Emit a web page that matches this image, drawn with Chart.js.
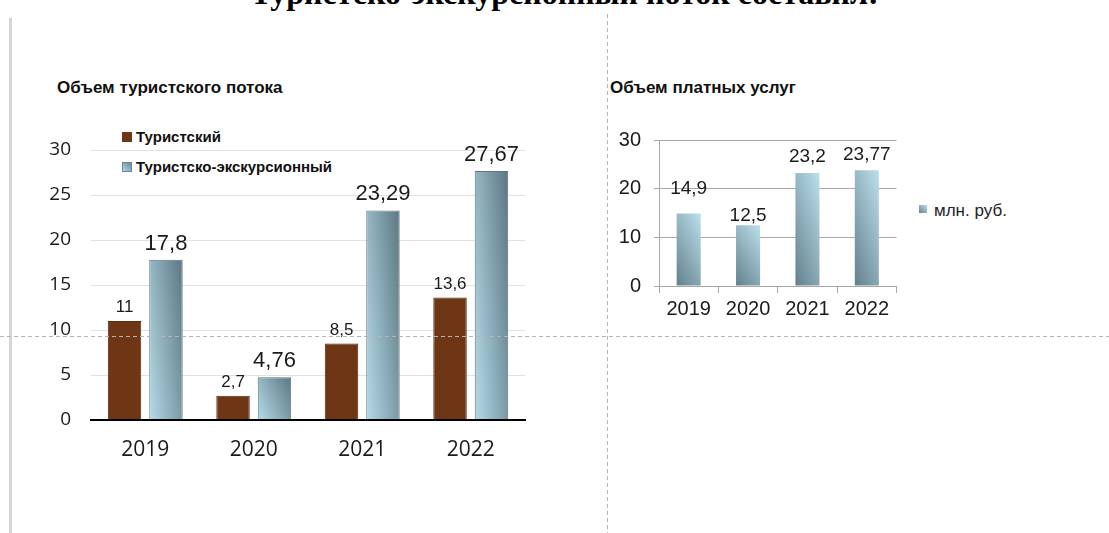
<!DOCTYPE html>
<html lang="ru">
<head>
<meta charset="utf-8">
<script src="https://cdn.jsdelivr.net/npm/chart.js@4/dist/chart.umd.min.js"></script>
<style>
  html,body{margin:0;padding:0;background:#fff;}
  body{width:1109px;height:533px;position:relative;overflow:hidden;font-family:"Liberation Sans",Arial,sans-serif;color:#1a1a1a;}
  .abs{position:absolute;}
  #topTitle{left:0;width:1129px;top:-23px;text-align:center;font:bold 32px/32px "Liberation Serif","Times New Roman",serif;color:#000;white-space:nowrap;}
  #leftBar{left:9px;top:18px;width:3px;height:515px;background:#d6d6d6;}
  #vDash{left:607px;top:14px;width:1px;height:519px;background:repeating-linear-gradient(to bottom,#b4b4b4 0 4px,transparent 4px 7px);z-index:5;}
  #hDash{left:0;top:336px;width:1109px;height:1px;background:repeating-linear-gradient(to right,#b4b4b4 0 4px,transparent 4px 7px);z-index:5;}
  .title{font-weight:bold;font-size:17px;line-height:17px;white-space:nowrap;color:#111;}
  .leg{font-weight:bold;font-size:15px;line-height:15px;white-space:nowrap;color:#111;}
  .sq{position:absolute;}
</style>
</head>
<body>
<div id="topTitle" class="abs">Туристско-экскурсионный поток составил:</div>
<div id="leftBar" class="abs"></div>
<div id="vDash" class="abs"></div>
<div id="hDash" class="abs"></div>

<div class="abs title" style="left:57px;top:79px;">Объем туристского потока</div>
<div class="abs title" style="left:610px;top:79px;">Объем платных услуг</div>

<div class="sq" style="left:122px;top:132px;width:10px;height:10px;background:#6e3614;"></div>
<div class="abs leg" style="left:136px;top:129px;">Туристский</div>
<div class="sq" style="left:122px;top:162px;width:10px;height:10px;background:linear-gradient(45deg,#b3d9e6,#6a8895);box-sizing:border-box;border:1px solid #6f8792;"></div>
<div class="abs leg" style="left:136px;top:159px;">Туристско-экскурсионный</div>

<div class="sq" style="left:919px;top:205px;width:8px;height:8px;background:linear-gradient(45deg,#66828f,#b8dde9);"></div>
<div class="abs" style="left:934px;top:202px;font-size:17px;line-height:17px;white-space:nowrap;color:#222;">млн. руб.</div>

<canvas id="c1" class="abs" width="530" height="390" style="left:20px;top:100px;"></canvas>
<canvas id="c2" class="abs" width="320" height="240" style="left:600px;top:100px;"></canvas>

<script>
// ---- data ----
const years = ['2019', '2020', '2021', '2022'];
const touristFlow = [11, 2.7, 8.5, 13.6];
const excursionFlow = [17.8, 4.76, 23.29, 27.67];
const paidServices = [14.9, 12.5, 23.2, 23.77];
const leftTicks = [0, 5, 10, 15, 20, 25, 30];
const rightTicks = [0, 10, 20, 30];
const seriesNames = ['Туристский', 'Туристско-экскурсионный'];
const paidName = 'млн. руб.';

// ---- helpers ----
function fmt(v){ return String(v).replace('.', ','); }

function makeGradient(c0, c1, a, b){
  return function(ctx){
    const el = ctx.element;
    if (!el || !isFinite(el.x) || !isFinite(el.base) || !isFinite(el.y) || !el.width) return c1;
    const w = el.width, h = Math.max(1, Math.abs(el.base - el.y));
    const x0 = el.x - w/2, y0 = el.base;
    const vx = a / w, vy = -b / h;
    const n2 = vx*vx + vy*vy;
    const g = ctx.chart.ctx.createLinearGradient(x0, y0, x0 + vx/n2, y0 + vy/n2);
    g.addColorStop(0, c0);
    g.addColorStop(1, c1);
    return g;
  };
}

const valueLabels = {
  id: 'valueLabels',
  afterDatasetsDraw(chart, args, opts){
    const ctx = chart.ctx;
    ctx.save();
    chart.data.datasets.forEach((ds, di) => {
      const meta = chart.getDatasetMeta(di);
      const cfg = opts.sets[di];
      ctx.font = cfg.font;
      ctx.fillStyle = '#1a1a1a';
      ctx.textAlign = 'center';
      ctx.textBaseline = 'alphabetic';
      meta.data.forEach((el, i) => {
        const off = Array.isArray(cfg.offset) ? cfg.offset[i] : cfg.offset;
        ctx.fillText(fmt(ds.data[i]), el.x, el.y - off);
      });
    });
    ctx.restore();
  }
};

// ---- left chart ----
const c1 = new Chart(document.getElementById('c1'), {
  type: 'bar',
  data: {
    labels: years,
    datasets: [
      { label: seriesNames[0], data: touristFlow, backgroundColor: '#6e3614', borderColor: '#552810', borderWidth: 1,
        categoryPercentage: 0.764, barPercentage: 0.807 },
      { label: seriesNames[1], data: excursionFlow, backgroundColor: makeGradient('#b5dbe8', '#5b7682', 0.65, 0.35),
        borderColor: '#5f7682', borderWidth: 1, categoryPercentage: 0.764, barPercentage: 0.807 }
    ]
  },
  options: {
    responsive: false, animation: false,
    layout: { padding: { top: 50, right: 25, left: 0, bottom: 0 } },
    plugins: { legend: { display: false }, tooltip: { enabled: false },
      valueLabels: { sets: [ { font: '17px "Liberation Sans", Arial, sans-serif', offset: 9 },
                             { font: '22px "Liberation Sans", Arial, sans-serif', offset: 10 } ] } },
    scales: {
      x: {
        grid: { display: false, drawTicks: false },
        border: { display: true, color: '#000', width: 2 },
        ticks: { color: '#1a1a1a', font: { family: '"Open Sans", sans-serif', size: 21 }, padding: 17 },
        afterFit(s){ s.height = 70; }
      },
      y: {
        min: 0, max: 30,
        afterBuildTicks(s){ s.ticks = leftTicks.map(v => ({ value: v })); },
        ticks: { color: '#1a1a1a', font: { family: '"Open Sans", sans-serif', size: 19 }, padding: 20 },
        grid: { drawTicks: false, color: c => c.tick && c.tick.value === 0 ? '#000' : '#e2e2e2',
                lineWidth: c => c.tick && c.tick.value === 0 ? 2 : 1 },
        border: { display: false },
        afterFit(s){ s.width = 71; }
      }
    }
  },
  plugins: [valueLabels]
});
c1.update('none');

// ---- right chart ----
const c2 = new Chart(document.getElementById('c2'), {
  type: 'bar',
  data: {
    labels: years,
    datasets: [
      { label: paidName, data: paidServices, backgroundColor: makeGradient('#64808d', '#bbe0ec', 0.4, 0.6),
        borderWidth: 0, categoryPercentage: 0.45, barPercentage: 0.9 }
    ]
  },
  options: {
    responsive: false, animation: false,
    layout: { padding: { top: 40, right: 23.5, left: 0, bottom: 0 } },
    plugins: { legend: { display: false }, tooltip: { enabled: false },
      valueLabels: { sets: [ { font: '19px "Liberation Sans", Arial, sans-serif', offset: [19, 4, 11, 10] } ] } },
    scales: {
      x: {
        grid: { drawOnChartArea: false, drawTicks: true, tickLength: 7, color: '#a8a8a8' },
        border: { display: true, color: '#a8a8a8', width: 1 },
        ticks: { color: '#1a1a1a', font: { family: '"Liberation Sans", Arial, sans-serif', size: 20 }, padding: 4 },
        afterFit(s){ s.height = 54; }
      },
      y: {
        min: 0, max: 30,
        afterBuildTicks(s){ s.ticks = rightTicks.map(v => ({ value: v })); },
        ticks: { color: '#1a1a1a', font: { family: '"Liberation Sans", Arial, sans-serif', size: 20 }, padding: 13 },
        grid: { drawTicks: true, tickLength: 5, color: '#a8a8a8' },
        border: { display: true, color: '#a8a8a8', width: 1 },
        afterFit(s){ s.width = 59; }
      }
    }
  },
  plugins: [valueLabels]
});
c2.update('none');
</script>
</body>
</html>
